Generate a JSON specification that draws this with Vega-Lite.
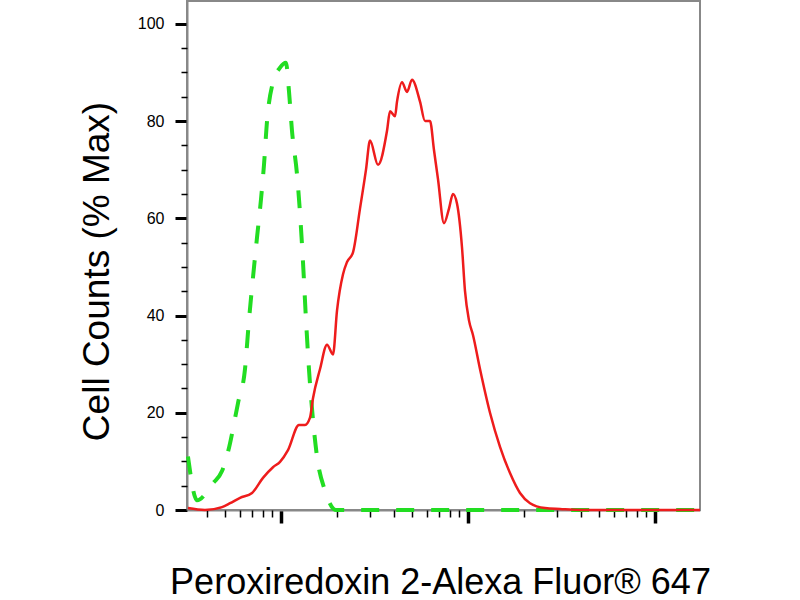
{
  "$schema": "https://vega.github.io/schema/vega-lite/v6.json",
  "width": 513,
  "height": 509,
  "autosize": {"type": "none"},
  "padding": {"left": 187, "top": 1, "right": 100, "bottom": 90},
  "background": "white",
  "data": {
    "values": [
      {"sample": "control", "intensity": 3.18, "count": 11},
      {"sample": "control", "intensity": 3.555, "count": 2},
      {"sample": "control", "intensity": 4.33, "count": 5.5},
      {"sample": "control", "intensity": 4.836, "count": 8},
      {"sample": "control", "intensity": 5.21, "count": 12},
      {"sample": "control", "intensity": 5.89, "count": 22},
      {"sample": "control", "intensity": 6.42, "count": 29},
      {"sample": "control", "intensity": 6.74, "count": 39},
      {"sample": "control", "intensity": 7.09, "count": 48},
      {"sample": "control", "intensity": 7.44, "count": 56},
      {"sample": "control", "intensity": 7.82, "count": 64},
      {"sample": "control", "intensity": 8.11, "count": 71},
      {"sample": "control", "intensity": 8.42, "count": 80},
      {"sample": "control", "intensity": 9.06, "count": 88},
      {"sample": "control", "intensity": 9.88, "count": 91},
      {"sample": "control", "intensity": 10.63, "count": 92},
      {"sample": "control", "intensity": 11.04, "count": 86},
      {"sample": "control", "intensity": 11.45, "count": 78},
      {"sample": "control", "intensity": 12.18, "count": 69},
      {"sample": "control", "intensity": 12.64, "count": 61},
      {"sample": "control", "intensity": 13.11, "count": 51},
      {"sample": "control", "intensity": 13.61, "count": 39},
      {"sample": "control", "intensity": 14.11, "count": 29},
      {"sample": "control", "intensity": 14.83, "count": 18.5},
      {"sample": "control", "intensity": 15.58, "count": 11},
      {"sample": "control", "intensity": 17.19, "count": 4},
      {"sample": "control", "intensity": 19.69, "count": 0},
      {"sample": "control", "intensity": 1740, "count": 0},
      {"sample": "stained", "intensity": 3.18, "count": 0.4},
      {"sample": "stained", "intensity": 3.92, "count": 0},
      {"sample": "stained", "intensity": 4.836, "count": 0.6},
      {"sample": "stained", "intensity": 5.34, "count": 1.4},
      {"sample": "stained", "intensity": 6.04, "count": 2.5},
      {"sample": "stained", "intensity": 7.0, "count": 3.5},
      {"sample": "stained", "intensity": 8.01, "count": 6.6},
      {"sample": "stained", "intensity": 9.06, "count": 8.8},
      {"sample": "stained", "intensity": 9.88, "count": 9.9},
      {"sample": "stained", "intensity": 10.9, "count": 12.3},
      {"sample": "stained", "intensity": 12.48, "count": 17.5},
      {"sample": "stained", "intensity": 13.44, "count": 17.5},
      {"sample": "stained", "intensity": 14.29, "count": 19},
      {"sample": "stained", "intensity": 14.83, "count": 23},
      {"sample": "stained", "intensity": 16.17, "count": 29},
      {"sample": "stained", "intensity": 17.62, "count": 34},
      {"sample": "stained", "intensity": 18.97, "count": 32},
      {"sample": "stained", "intensity": 19.93, "count": 41},
      {"sample": "stained", "intensity": 21.46, "count": 48.5},
      {"sample": "stained", "intensity": 22.54, "count": 51},
      {"sample": "stained", "intensity": 24.27, "count": 53},
      {"sample": "stained", "intensity": 26.45, "count": 62},
      {"sample": "stained", "intensity": 28.48, "count": 70},
      {"sample": "stained", "intensity": 29.92, "count": 76},
      {"sample": "stained", "intensity": 33.02, "count": 71},
      {"sample": "stained", "intensity": 36.89, "count": 78},
      {"sample": "stained", "intensity": 38.28, "count": 82},
      {"sample": "stained", "intensity": 40.7, "count": 81},
      {"sample": "stained", "intensity": 41.72, "count": 84},
      {"sample": "stained", "intensity": 44.37, "count": 88},
      {"sample": "stained", "intensity": 47.19, "count": 86},
      {"sample": "stained", "intensity": 50.17, "count": 88.5},
      {"sample": "stained", "intensity": 55.38, "count": 84},
      {"sample": "stained", "intensity": 58.9, "count": 80},
      {"sample": "stained", "intensity": 62.64, "count": 80},
      {"sample": "stained", "intensity": 65.8, "count": 74},
      {"sample": "stained", "intensity": 69.13, "count": 68},
      {"sample": "stained", "intensity": 74.39, "count": 59},
      {"sample": "stained", "intensity": 79.13, "count": 62},
      {"sample": "stained", "intensity": 83.13, "count": 65},
      {"sample": "stained", "intensity": 87.36, "count": 63},
      {"sample": "stained", "intensity": 92.88, "count": 54},
      {"sample": "stained", "intensity": 96.38, "count": 45},
      {"sample": "stained", "intensity": 101.2, "count": 39},
      {"sample": "stained", "intensity": 106.3, "count": 36},
      {"sample": "stained", "intensity": 115.9, "count": 29},
      {"sample": "stained", "intensity": 131.1, "count": 20},
      {"sample": "stained", "intensity": 148.3, "count": 13},
      {"sample": "stained", "intensity": 167.7, "count": 7.6},
      {"sample": "stained", "intensity": 189.7, "count": 3.5},
      {"sample": "stained", "intensity": 214.6, "count": 1.4},
      {"sample": "stained", "intensity": 258.1, "count": 0.4},
      {"sample": "stained", "intensity": 310.5, "count": 0.2},
      {"sample": "stained", "intensity": 397.1, "count": 0},
      {"sample": "stained", "intensity": 1740, "count": 0}
    ]
  },
  "encoding": {
    "x": {
      "field": "intensity",
      "type": "quantitative",
      "scale": {"type": "log", "domain": [3.143, 1740], "nice": false}
    },
    "y": {
      "field": "count",
      "type": "quantitative",
      "scale": {"domain": [0, 104.7], "nice": false, "zero": false}
    }
  },
  "layer": [
    {
      "transform": [{"filter": "datum.sample == 'control'"}],
      "mark": {"type": "line", "color": "#22dd22", "strokeWidth": 4, "strokeDash": [18, 17], "interpolate": "monotone"},
      "encoding": {
        "x": {
          "field": "intensity",
          "type": "quantitative",
          "axis": {
            "orient": "bottom",
            "values": [10, 100, 1000],
            "labels": false,
            "grid": false,
            "tickSize": 13,
            "tickWidth": 3.5,
            "tickColor": "black",
            "domainColor": "#888888",
            "domainWidth": 2,
            "title": "Peroxiredoxin 2-Alexa Fluor® 647",
            "titleFont": "Liberation Sans",
            "titleFontSize": 36,
            "titleFontWeight": "normal",
            "titleColor": "black",
            "titleAlign": "center",
            "titleBaseline": "alphabetic",
            "titleX": 253,
            "titleY": 83
          }
        },
        "y": {
          "field": "count",
          "type": "quantitative",
          "axis": {
            "orient": "left",
            "values": [0, 20, 40, 60, 80, 100],
            "grid": false,
            "tickSize": 12,
            "tickWidth": 3,
            "tickColor": "black",
            "labelFont": "Liberation Sans",
            "labelFontSize": 16,
            "labelColor": "black",
            "labelPadding": 11,
            "domainColor": "#888888",
            "domainWidth": 2,
            "title": "Cell Counts (% Max)",
            "titleFont": "Liberation Sans",
            "titleFontSize": 37,
            "titleFontWeight": "normal",
            "titleColor": "black",
            "titleAngle": -90,
            "titleAlign": "center",
            "titleBaseline": "alphabetic",
            "titleX": -79,
            "titleY": 270
          }
        }
      }
    },
    {
      "transform": [{"filter": "datum.sample == 'stained'"}],
      "mark": {"type": "line", "color": "#ee1c1c", "strokeWidth": 2.5, "interpolate": "monotone"},
      "encoding": {
        "x": {
          "field": "intensity",
          "type": "quantitative",
          "axis": {
            "orient": "bottom",
            "values": [4, 5, 6, 7, 8, 9, 20, 30, 40, 50, 60, 70, 80, 90, 200, 300, 400, 500, 600, 700, 800, 900],
            "labels": false,
            "grid": false,
            "domain": false,
            "tickSize": 7,
            "tickWidth": 1.5,
            "tickColor": "black",
            "title": null
          }
        },
        "y": {
          "field": "count",
          "type": "quantitative",
          "axis": {
            "orient": "left",
            "values": [5, 10, 15, 25, 30, 35, 45, 50, 55, 65, 70, 75, 85, 90, 95],
            "labels": false,
            "grid": false,
            "domain": false,
            "tickSize": 6,
            "tickWidth": 1.5,
            "tickColor": "black",
            "title": null
          }
        }
      }
    }
  ],
  "resolve": {"axis": {"x": "independent", "y": "independent"}},
  "config": {
    "view": {"stroke": "#888888", "strokeWidth": 2},
    "font": "Liberation Sans"
  }
}
